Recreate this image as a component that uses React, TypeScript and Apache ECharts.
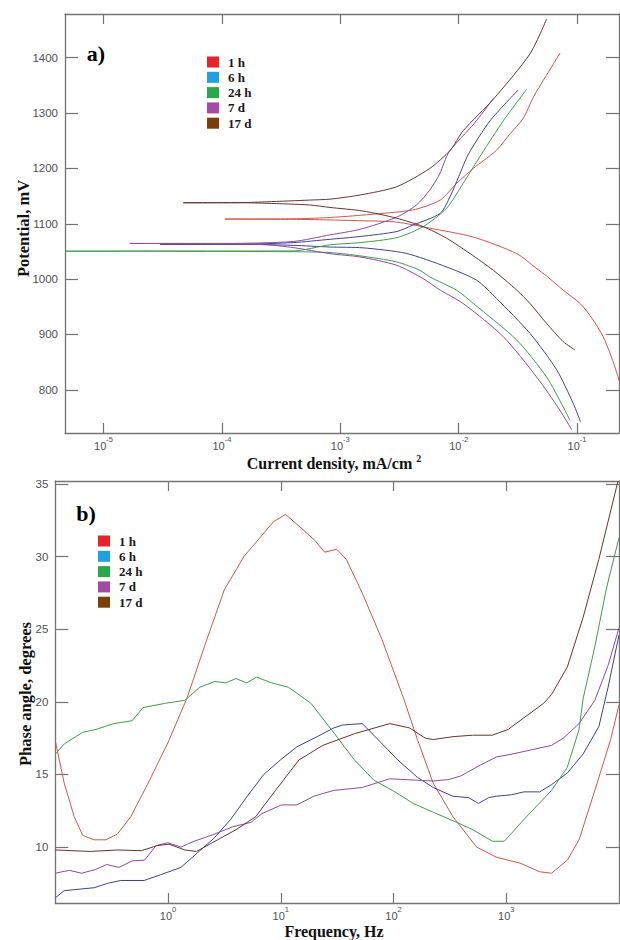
import React, { useEffect, useRef } from 'react';
import * as echarts from 'echarts';

// ---------- shared ----------
const SERIES_NAMES = ['1 h', '6 h', '24 h', '7 d', '17 d'];
const LEGEND_COLORS = ['#e8242b', '#1ea1de', '#2aa84b', '#a34aa6', '#7b3f0c'];
const LINE_COLORS = ['#d6534c', '#40409e', '#3f9c4d', '#8b4c9d', '#6e3232'];

// ---------- panel a: polarization curves [current density mA/cm2, potential mV] ----------
const CURRENT_MIN = 4.73e-6;
const CURRENT_MAX = 0.226;
const POTENTIAL_MIN = 722;
const POTENTIAL_MAX = 1479;
const CURRENT_TICKS = [1e-5, 1e-4, 1e-3, 1e-2, 1e-1];
const POTENTIAL_TICKS = [800, 900, 1000, 1100, 1200, 1300, 1400];

const POL_1H = [
  [0.24, 800], [0.2, 853], [0.166, 896], [0.135, 928], [0.106, 956], [0.0764, 980], [0.055, 1006],
  [0.045, 1020], [0.031, 1046], [0.0133, 1076], [0.0057, 1092], [0.003, 1103], [0.0015, 1105.5],
  [0.00077, 1107], [0.0004, 1108], [0.000106, 1108.5],
  [0.0004, 1109], [0.00077, 1111], [0.0015, 1115.5], [0.0041, 1125], [0.007, 1143], [0.0096, 1173],
  [0.0133, 1200], [0.0209, 1233], [0.027, 1262], [0.035, 1290], [0.043, 1330], [0.055, 1368],
  [0.0717, 1408],
];
const POL_6H = [
  [0.107, 742], [0.093, 775], [0.0673, 836], [0.04, 902], [0.0209, 965], [0.0142, 998], [0.0079, 1022],
  [0.0036, 1046.5], [0.00156, 1056.5], [0.00082, 1058], [0.0004, 1061], [0.00015, 1063], [0.00003, 1063],
  [0.00015, 1063.3], [0.0004, 1066], [0.00082, 1072], [0.00147, 1077], [0.003, 1086], [0.0041, 1097.6],
  [0.007, 1119], [0.0085, 1150], [0.01, 1185], [0.0121, 1226], [0.0184, 1286], [0.0319, 1342],
];
const POL_24H = [
  [0.0871, 745], [0.0764, 769], [0.0553, 823], [0.0309, 890], [0.0133, 956], [0.0096, 980], [0.0057, 1004],
  [0.0047, 1016], [0.003, 1031], [0.00147, 1042], [0.00082, 1048], [0.0004, 1049.5], [0.0000216, 1050.5],
  [0.0000048, 1050.5],
  [0.0000216, 1050.6], [0.0004, 1051], [0.00082, 1062], [0.00147, 1066], [0.003, 1075], [0.005, 1094.6],
  [0.0079, 1128], [0.0109, 1173], [0.0156, 1226], [0.0238, 1286], [0.0375, 1343],
];
const POL_7D = [
  [0.09, 728], [0.0717, 763], [0.0456, 823], [0.0238, 896], [0.0109, 956], [0.007, 980], [0.005, 1001],
  [0.003, 1025], [0.00147, 1040], [0.00082, 1046], [0.0004, 1057], [0.00024, 1062], [0.00011, 1063.5],
  [0.0000167, 1064.5],
  [0.00011, 1064.5], [0.0004, 1068], [0.00082, 1080], [0.00147, 1090], [0.003, 1112], [0.0044, 1134],
  [0.0057, 1161], [0.0069, 1190], [0.0083, 1230], [0.0135, 1281], [0.0196, 1326],
];
const POL_17D = [
  [0.096, 872], [0.0764, 887], [0.0553, 920], [0.04, 956], [0.031, 980], [0.0196, 1016], [0.0125, 1046],
  [0.0079, 1074], [0.005, 1095], [0.003, 1110], [0.00156, 1123], [0.00082, 1129.5], [0.00055, 1134],
  [0.00024, 1137], [0.00015, 1138], [0.0000472, 1138],
  [0.00015, 1138.3], [0.00024, 1139.7], [0.00055, 1142.8], [0.00082, 1144.5], [0.00147, 1152], [0.003, 1167],
  [0.0057, 1200], [0.0085, 1233], [0.0109, 1268], [0.0196, 1325], [0.04, 1407], [0.0553, 1470],
];

// ---------- panel b: phase angle [frequency Hz, degrees] ----------
const FREQ_MIN = 0.1;
const FREQ_MAX = 10000;
const PHASE_MIN = 6.15;
const PHASE_MAX = 35.2;
const FREQ_TICKS = [1, 10, 100, 1000];
const PHASE_TICKS = [10, 15, 20, 25, 30, 35];

const PH_1H = [
  [0.1, 17.3], [0.12, 14.4], [0.147, 12.1], [0.175, 10.8], [0.221, 10.5], [0.281, 10.5], [0.356, 10.9],
  [0.468, 12.1], [0.656, 14.3], [1.0, 17.2], [1.48, 20.3], [2.1, 23.8], [3.15, 27.7], [4.71, 30.0],
  [8.62, 32.4], [11.0, 32.9], [14.5, 32.1], [20.1, 31.1], [24.5, 30.3], [31.3, 30.5], [38.2, 29.8],
  [52.7, 27.5], [78.9, 24.3], [122, 20.3], [163, 17.4], [225, 14.4], [336, 12.1], [546, 10.0],
  [816, 9.3], [1322, 8.9], [1981, 8.3], [2522, 8.2], [3481, 9.1], [4426, 10.5], [6105, 13.9],
  [8433, 17.4], [10000, 19.8],
];
const PH_6H = [
  [0.1, 6.5], [0.12, 7.0], [0.221, 7.2], [0.29, 7.5], [0.381, 7.7], [0.613, 7.7], [0.862, 8.1], [1.3, 8.6],
  [1.82, 9.6], [2.55, 10.6], [3.59, 11.9], [5.04, 13.5], [7.07, 15.0], [9.93, 16.0], [13.9, 16.9],
  [21.0, 17.6], [29.5, 18.2], [35.2, 18.4], [52.8, 18.5], [72.9, 17.4], [109, 16.0], [163, 14.8],
  [225, 14.1], [336, 13.5], [464, 13.4], [567, 13.0], [696, 13.4], [816, 13.5], [1114, 13.6],
  [1435, 13.8], [1981, 13.8], [2522, 14.3], [3481, 15.1], [4800, 16.4], [6630, 18.3], [8000, 21.0],
  [10000, 24.6],
];
const PH_24H = [
  [0.1, 16.4], [0.12, 17.1], [0.175, 17.9], [0.23, 18.1], [0.33, 18.5], [0.48, 18.7], [0.6, 19.6],
  [0.95, 19.9], [1.41, 20.1], [1.91, 21.0], [2.6, 21.4], [3.25, 21.3], [4.0, 21.6], [5.0, 21.3],
  [6.1, 21.7], [8.3, 21.3], [11.7, 21.0], [18.5, 19.9], [30, 17.8], [45, 16.0], [67, 14.6], [98, 13.9],
  [150, 13.0], [225, 12.4], [364, 11.7], [504, 11.2], [753, 10.4], [960, 10.4], [1435, 11.9],
  [2522, 13.9], [3481, 15.5], [4426, 18.1], [4800, 20.2], [6105, 23.8], [7785, 27.9], [10000, 31.3],
];
const PH_7D = [
  [0.1, 8.2], [0.133, 8.4], [0.171, 8.2], [0.226, 8.45], [0.286, 8.8], [0.368, 8.6], [0.48, 9.05],
  [0.619, 9.1], [0.783, 10.1], [0.99, 10.3], [1.3, 10.0], [1.7, 10.4], [2.4, 10.8], [3.76, 11.4],
  [5.43, 11.7], [6.8, 12.3], [10.1, 12.9], [13.9, 12.9], [19.6, 13.5], [29.5, 13.9], [52.8, 14.1],
  [92.7, 14.7], [163, 14.6], [225, 14.55], [310, 14.65], [396, 14.9], [591, 15.65], [816, 16.2],
  [1125, 16.4], [1686, 16.7], [2522, 17.0], [3206, 17.5], [4426, 18.5], [6105, 20.1], [8000, 22.5],
  [10000, 25.1],
];
const PH_17D = [
  [0.1, 9.8], [0.204, 9.7], [0.358, 9.8], [0.58, 9.75], [0.8, 10.1], [1.02, 10.2], [1.41, 9.8],
  [1.79, 9.7], [2.47, 10.3], [4.02, 11.2], [6.0, 12.1], [8.98, 13.9], [14.5, 16.0], [23.6, 17.0],
  [44.9, 17.8], [92.7, 18.5], [139, 18.2], [191, 17.5], [225, 17.4], [336, 17.6], [503, 17.7],
  [752, 17.7], [1040, 18.1], [1435, 18.9], [2148, 19.9], [2522, 20.5], [3481, 22.4], [4800, 25.8],
  [6620, 29.8], [9800, 35.2],
];

const POL_DATA = [POL_1H, POL_6H, POL_24H, POL_7D, POL_17D];
const PHASE_DATA = [PH_1H, PH_6H, PH_24H, PH_7D, PH_17D];

const FRAME = '#747474';
const LABEL_COLOR = '#505050';
const SANS = '"Liberation Sans", Arial, sans-serif';
const SERIF = '"Liberation Serif", "Times New Roman", serif';

const powLabel = (v: number) => {
  const e = Math.round(Math.log10(v));
  return `{b|10}{s|${e}}`;
};

const powRich = {
  b: { fontSize: 11, fontFamily: SANS, color: LABEL_COLOR, lineHeight: 16, verticalAlign: 'bottom' },
  s: { fontSize: 7.5, fontFamily: SANS, color: LABEL_COLOR, lineHeight: 9, verticalAlign: 'top' },
};

function logXAxis(grid: number, min: number, max: number, ticks: number[], top: boolean) {
  return {
    type: 'log',
    logBase: 10,
    gridIndex: grid,
    position: top ? 'top' : 'bottom',
    min,
    max,
    axisLine: { show: true, onZero: false, lineStyle: { color: FRAME, width: 1.3 } },
    axisTick: { show: true, inside: true, length: 10, customValues: ticks, lineStyle: { color: FRAME, width: 1.2 } },
    axisLabel: top
      ? { show: false }
      : { show: true, customValues: ticks, formatter: powLabel, rich: powRich, margin: 2 },
    splitLine: { show: false },
    minorTick: { show: false },
  };
}

function valYAxis(grid: number, min: number, max: number, ticks: number[], right: boolean) {
  return {
    type: 'value',
    gridIndex: grid,
    position: right ? 'right' : 'left',
    min,
    max,
    axisLine: { show: true, onZero: false, lineStyle: { color: FRAME, width: 1.3 } },
    axisTick: { show: true, inside: true, length: 13, customValues: ticks, lineStyle: { color: FRAME, width: 1.2 } },
    axisLabel: right
      ? { show: false }
      : {
          show: true,
          customValues: ticks,
          formatter: (v: number) => String(v),
          color: LABEL_COLOR,
          fontFamily: SANS,
          fontSize: 11.5,
          margin: 7,
        },
    splitLine: { show: false },
  };
}

function legendFor(left: number, top: number) {
  return {
    left,
    top,
    orient: 'vertical',
    padding: 0,
    itemWidth: 12,
    itemHeight: 11,
    itemGap: 2.3,
    selectedMode: false,
    data: SERIES_NAMES.map((n, i) => ({
      name: n,
      icon: 'rect',
      itemStyle: { color: LEGEND_COLORS[i], borderWidth: 0 },
    })),
    textStyle: {
      fontFamily: SERIF,
      fontWeight: 'bold',
      fontSize: 13,
      color: '#1a1a1a',
      lineHeight: 13,
      padding: [0, 0, 0, 4],
    },
  };
}

export default function App() {
  const ref = useRef<HTMLDivElement>(null);

  useEffect(() => {
    if (!ref.current) return;
    const chart = echarts.init(ref.current, undefined, { renderer: 'svg' });

    const series: any[] = [];
    SERIES_NAMES.forEach((name, i) => {
      series.push({
        name,
        type: 'line',
        xAxisIndex: 0,
        yAxisIndex: 0,
        data: POL_DATA[i],
        symbol: 'none',
        smooth: 0.25,
        lineStyle: { color: LINE_COLORS[i], width: 1 },
        itemStyle: { color: LINE_COLORS[i] },
        z: 3,
      });
    });
    SERIES_NAMES.forEach((name, i) => {
      series.push({
        name,
        type: 'line',
        xAxisIndex: 2,
        yAxisIndex: 2,
        data: PHASE_DATA[i],
        symbol: 'none',
        lineStyle: { color: LINE_COLORS[i], width: 1 },
        itemStyle: { color: LINE_COLORS[i] },
        z: 3,
      });
    });

    const option: any = {
      animation: false,
      backgroundColor: '#ffffff',
      grid: [
        { left: 65, top: 14, right: 1, height: 419 },
        { left: 55.3, top: 481, right: 1, height: 422 },
      ],
      xAxis: [
        logXAxis(0, CURRENT_MIN, CURRENT_MAX, CURRENT_TICKS, false),
        logXAxis(0, CURRENT_MIN, CURRENT_MAX, CURRENT_TICKS, true),
        logXAxis(1, FREQ_MIN, FREQ_MAX, FREQ_TICKS, false),
        logXAxis(1, FREQ_MIN, FREQ_MAX, FREQ_TICKS, true),
      ],
      yAxis: [
        valYAxis(0, POTENTIAL_MIN, POTENTIAL_MAX, POTENTIAL_TICKS, false),
        valYAxis(0, POTENTIAL_MIN, POTENTIAL_MAX, POTENTIAL_TICKS, true),
        valYAxis(1, PHASE_MIN, PHASE_MAX, PHASE_TICKS, false),
        valYAxis(1, PHASE_MIN, PHASE_MAX, PHASE_TICKS, true),
      ],
      legend: [legendFor(207, 55.5), legendFor(98, 534.5)],
      series,
      graphic: [
        {
          type: 'text', x: 96, y: 53,
          style: { text: 'a)', font: `bold 22px ${SERIF}`, fill: '#000', align: 'center', verticalAlign: 'middle' },
        },
        {
          type: 'text', x: 86, y: 513,
          style: { text: 'b)', font: `bold 22px ${SERIF}`, fill: '#000', align: 'center', verticalAlign: 'middle' },
        },
        {
          type: 'text', x: 23, y: 228.5, rotation: Math.PI / 2,
          style: { text: 'Potential, mV', font: `bold 16.5px ${SERIF}`, fill: '#111', align: 'center', verticalAlign: 'middle' },
        },
        {
          type: 'text', x: 334, y: 462,
          style: {
            text: '{m|Current density, mA/cm }{s|2}',
            align: 'center',
            verticalAlign: 'middle',
            rich: {
              m: { fontFamily: SERIF, fontWeight: 'bold', fontSize: 16, fill: '#111', lineHeight: 18, verticalAlign: 'bottom' },
              s: { fontFamily: SERIF, fontWeight: 'bold', fontSize: 10, fill: '#111', lineHeight: 10, verticalAlign: 'top' },
            },
          },
        },
        {
          type: 'text', x: 25, y: 694, rotation: Math.PI / 2,
          style: { text: 'Phase angle, degrees', font: `bold 16.5px ${SERIF}`, fill: '#111', align: 'center', verticalAlign: 'middle' },
        },
        {
          type: 'text', x: 334, y: 931,
          style: { text: 'Frequency, Hz', font: `bold 16px ${SERIF}`, fill: '#111', align: 'center', verticalAlign: 'middle' },
        },
      ],
    };

    chart.setOption(option);
    return () => chart.dispose();
  }, []);

  return (
    <div
      ref={ref}
      style={{ position: 'absolute', left: 0, top: 0, width: 620, height: 940, background: '#fff' }}
    />
  );
}
